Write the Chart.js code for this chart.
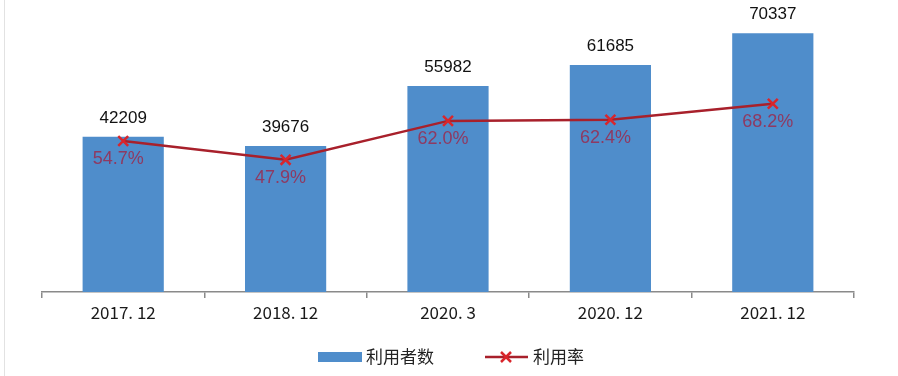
<!DOCTYPE html>
<html>
<head>
<meta charset="utf-8">
<script src="https://cdn.jsdelivr.net/npm/chart.js@4.4.1/dist/chart.umd.min.js"></script>
<style>
  html, body { margin: 0; padding: 0; background: #ffffff; }
  #wrap { width: 898px; height: 376px; position: relative; }
  #edge { position: absolute; left: 4px; top: 0; width: 1px; height: 376px; background: #e2e2e2; }
</style>
</head>
<body>
<div id="wrap"><div id="edge"></div><canvas id="cnnicChart"></canvas></div>
<script>
const periods = ["2017. 12", "2018. 12", "2020. 3", "2020. 12", "2021. 12"];
const users = [42209, 39676, 55982, 61685, 70337];
const rates = [54.7, 47.9, 62.0, 62.4, 68.2];

const barColor = "#4f8dcb";
const lineColor = "#a8202b";
const markColor = "#d9262c";
const rateTextColor = "#8e3a62";

// value labels above bars, rate labels below points, and the bottom legend
const labelPlugin = {
  id: "labels",
  afterDatasetsDraw(chart) {
    const ctx = chart.ctx;
    const lineMeta = chart.getDatasetMeta(0);
    const barMeta = chart.getDatasetMeta(1);
    ctx.save();
    ctx.textAlign = "center";

    ctx.font = "17px 'Liberation Sans', Arial, sans-serif";
    ctx.fillStyle = "#111111";
    ctx.textBaseline = "bottom";
    barMeta.data.forEach((bar, i) => {
      ctx.fillText(String(users[i]), bar.x, bar.y - 10);
    });

    ctx.font = "18px 'Liberation Sans', Arial, sans-serif";
    ctx.fillStyle = rateTextColor;
    ctx.textBaseline = "middle";
    lineMeta.data.forEach((pt, i) => {
      ctx.fillText(rates[i].toFixed(1) + "%", pt.x - 5, pt.y + 18);
    });

    // legend
    const ly = 357;
    ctx.fillStyle = barColor;
    ctx.fillRect(318, ly - 5, 44, 10);
    ctx.font = "17px 'Noto Sans CJK SC', sans-serif";
    ctx.fillStyle = "#222222";
    ctx.textAlign = "left";
    ctx.fillText("利用者数", 366, ly);

    ctx.strokeStyle = lineColor;
    ctx.lineWidth = 2.5;
    ctx.beginPath();
    ctx.moveTo(485, ly);
    ctx.lineTo(528, ly);
    ctx.stroke();
    ctx.strokeStyle = markColor;
    ctx.beginPath();
    ctx.moveTo(501, ly - 5);
    ctx.lineTo(511, ly + 5);
    ctx.moveTo(511, ly - 5);
    ctx.lineTo(501, ly + 5);
    ctx.stroke();
    ctx.fillStyle = "#222222";
    ctx.fillText("利用率", 533, ly);

    ctx.restore();
  },
};

new Chart(document.getElementById("cnnicChart"), {
  type: "bar",
  data: {
    labels: periods,
    datasets: [
      {
        type: "line",
        label: "利用率",
        data: rates,
        yAxisID: "yRate",
        borderColor: lineColor,
        borderWidth: 2.5,
        pointStyle: "crossRot",
        pointRadius: 7,
        pointBorderWidth: 2.5,
        pointBorderColor: markColor,
        tension: 0,
        order: 0,
      },
      {
        type: "bar",
        label: "利用者数",
        data: users,
        yAxisID: "yUsers",
        backgroundColor: barColor,
        categoryPercentage: 1,
        barPercentage: 0.5,
        order: 1,
      },
    ],
  },
  options: {
    responsive: true,
    maintainAspectRatio: false,
    animation: false,
    layout: { padding: { left: 42, right: 44, top: 16, bottom: 50 } },
    scales: {
      x: {
        afterFit: (scale) => { scale.height = 34; },
        border: { color: "#8a8a8a", width: 1.5 },
        grid: {
          offset: true,
          drawOnChartArea: false,
          drawTicks: true,
          tickLength: 6,
          color: "#8a8a8a",
          lineWidth: 1.5,
        },
        ticks: {
          color: "#1a1a1a",
          padding: 4,
          font: { size: 17, family: "'Noto Sans CJK SC', sans-serif" },
        },
      },
      yUsers: { display: false, min: 0, max: 75000 },
      yRate: { display: false, min: 0, max: 100 },
    },
    plugins: {
      legend: { display: false },
      tooltip: { enabled: false },
    },
  },
  plugins: [labelPlugin],
});
</script>
</body>
</html>
